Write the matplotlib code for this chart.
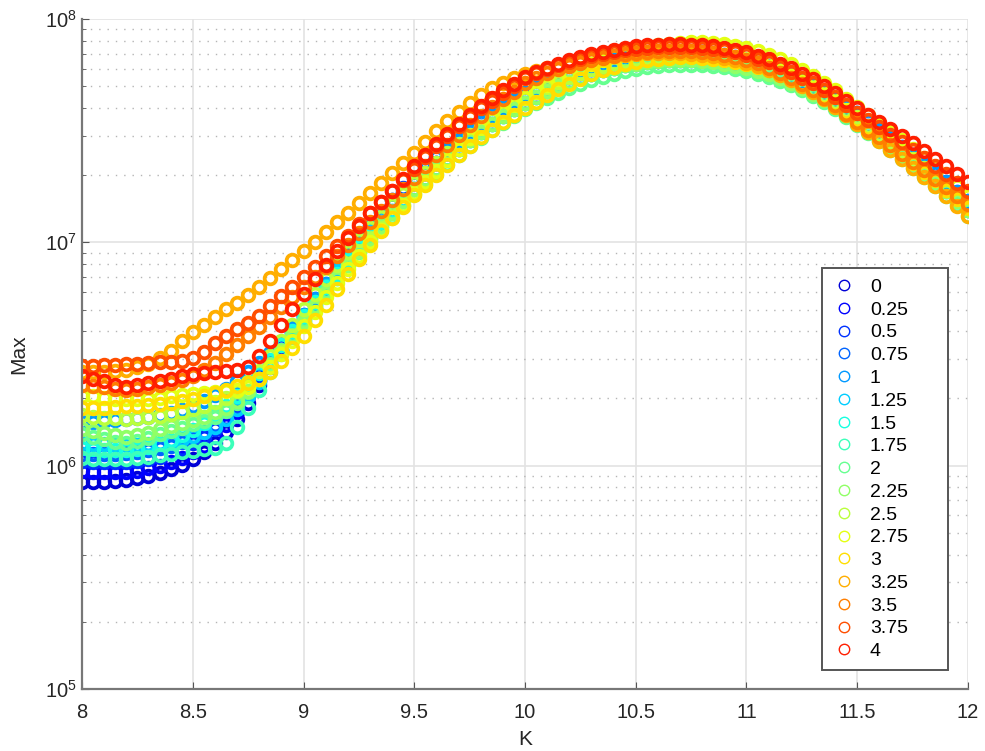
import numpy as np
import matplotlib
matplotlib.use("Agg")
import matplotlib.pyplot as plt
from matplotlib.ticker import FixedLocator, FuncFormatter, LogLocator, NullFormatter

plt.rcParams['font.family'] = ['Liberation Sans', 'DejaVu Sans']

# K grid of the sweep (8 .. 12, step 0.05)
k_values = np.round(np.arange(8.0, 12.0001, 0.05), 2)

# log10(Max), one list per legend entry
# hidden series (buried in the band above K = 9.5) share one of three tails
tail_a = [7.265, 7.31, 7.355, 7.40, 7.44, 7.48, 7.515, 7.55, 7.585, 7.615,
          7.645, 7.672, 7.697, 7.72, 7.74, 7.758, 7.775, 7.79, 7.802, 7.812,
          7.82, 7.827, 7.832, 7.835, 7.836, 7.835, 7.832, 7.827, 7.82, 7.811,
          7.80, 7.787, 7.772, 7.754, 7.734, 7.711, 7.686, 7.658, 7.627, 7.594,
          7.559, 7.523, 7.486, 7.448, 7.41, 7.371, 7.331, 7.29, 7.249, 7.207,
          7.165]
tail_b = [7.29, 7.335, 7.38, 7.42, 7.46, 7.50, 7.537, 7.572, 7.605, 7.637,
          7.667, 7.694, 7.718, 7.74, 7.76, 7.778, 7.794, 7.808, 7.82, 7.83,
          7.838, 7.845, 7.85, 7.853, 7.854, 7.853, 7.85, 7.845, 7.838, 7.829,
          7.818, 7.805, 7.79, 7.772, 7.752, 7.729, 7.704, 7.676, 7.645, 7.612,
          7.578, 7.542, 7.505, 7.467, 7.429, 7.39, 7.35, 7.31, 7.269, 7.227,
          7.185]
tail_c = [7.24, 7.285, 7.33, 7.375, 7.417, 7.457, 7.494, 7.53, 7.564, 7.595,
          7.625, 7.652, 7.677, 7.70, 7.72, 7.738, 7.755, 7.77, 7.782, 7.792,
          7.80, 7.807, 7.812, 7.815, 7.816, 7.815, 7.812, 7.807, 7.80, 7.791,
          7.78, 7.767, 7.752, 7.734, 7.714, 7.691, 7.666, 7.638, 7.607, 7.574,
          7.539, 7.503, 7.466, 7.428, 7.39, 7.351, 7.311, 7.27, 7.229, 7.187,
          7.145]

max_0 = [5.925, 5.925, 5.928, 5.932, 5.937, 5.945, 5.955, 5.968, 5.985, 6.005,
         6.03, 6.06, 6.10, 6.15, 6.21, 6.28, 6.36, 6.44, 6.52, 6.60,
         6.665, 6.735, 6.805, 6.87, 6.935, 6.995, 7.055, 7.11, 7.165, 7.22] + tail_a
max_025 = [5.975, 5.972, 5.97, 5.97, 5.972, 5.978, 5.988, 6.00, 6.015, 6.035,
           6.06, 6.09, 6.13, 6.18, 6.24, 6.31, 6.385, 6.46, 6.535, 6.605,
           6.67, 6.74, 6.81, 6.875, 6.94, 7.0, 7.06, 7.115, 7.17, 7.225] + tail_a
max_05 = [6.02, 6.018, 6.016, 6.016, 6.018, 6.022, 6.03, 6.04, 6.055, 6.075,
          6.10, 6.13, 6.165, 6.21, 6.265, 6.33, 6.40, 6.47, 6.54, 6.61,
          6.675, 6.745, 6.815, 6.885, 6.95, 7.015, 7.075, 7.135, 7.19, 7.245] + tail_b
max_075 = [6.05, 6.05, 6.05, 6.052, 6.055, 6.06, 6.068, 6.078, 6.09, 6.105,
           6.125, 6.15, 6.18, 6.215, 6.26, 6.315, 6.38, 6.45, 6.52, 6.59,
           6.655, 6.725, 6.79, 6.855, 6.915, 6.975, 7.03, 7.085, 7.14, 7.19] + tail_c
max_1 = [6.195, 6.197, 6.20, 6.203, 6.207, 6.212, 6.218, 6.226, 6.236, 6.25,
         6.268, 6.29, 6.315, 6.345, 6.38, 6.42, 6.46, 6.505, 6.555, 6.615,
         6.675, 6.745, 6.815, 6.885, 6.95, 7.015, 7.075, 7.135, 7.19, 7.24] + tail_b
max_125 = [6.10, 6.098, 6.095, 6.093, 6.092, 6.093, 6.096, 6.10, 6.108, 6.118,
           6.132, 6.15, 6.175, 6.21, 6.255, 6.31, 6.375, 6.445, 6.52, 6.595,
           6.665, 6.735, 6.805, 6.87, 6.935, 6.995, 7.055, 7.11, 7.165, 7.22] + tail_a
max_15 = [6.078, 6.075, 6.072, 6.07, 6.07, 6.075, 6.085, 6.098, 6.115, 6.135,
          6.16, 6.19, 6.225, 6.265, 6.31, 6.36, 6.415, 6.475, 6.54, 6.605,
          6.67, 6.735, 6.80, 6.86, 6.92, 6.98, 7.035, 7.09, 7.14, 7.19] + tail_c
max_175 = [6.033, 6.03, 6.028, 6.028, 6.03, 6.034, 6.04, 6.046, 6.053, 6.06,
           6.067, 6.074, 6.08, 6.10, 6.175, 6.26, 6.34, 6.42, 6.50, 6.575,
           6.645, 6.71, 6.775, 6.84, 6.90, 6.96, 7.02, 7.075, 7.13, 7.185] + tail_c
max_2 = [6.14, 6.13, 6.12, 6.105, 6.10, 6.11, 6.125, 6.14, 6.155, 6.17,
         6.185, 6.20, 6.22, 6.245, 6.28, 6.33, 6.39, 6.455, 6.52, 6.585,
         6.65, 6.715, 6.78, 6.84, 6.90, 6.955, 7.01, 7.065, 7.115, 7.165,
         7.215, 7.26, 7.305, 7.35, 7.39, 7.43, 7.468, 7.503, 7.536, 7.567,
         7.595, 7.622, 7.647, 7.67, 7.69, 7.708, 7.725, 7.74, 7.753, 7.765,
         7.775, 7.783, 7.789, 7.793, 7.795, 7.795, 7.793, 7.789, 7.783, 7.775,
         7.765, 7.753, 7.739, 7.722, 7.703, 7.681, 7.656, 7.628, 7.597, 7.563,
         7.527, 7.49, 7.452, 7.413, 7.374, 7.334, 7.293, 7.251, 7.208, 7.165,
         7.12]
max_225 = [6.165, 6.155, 6.145, 6.135, 6.13, 6.135, 6.148, 6.162, 6.177, 6.19,
           6.205, 6.22, 6.238, 6.26, 6.29, 6.335, 6.39, 6.45, 6.515, 6.58,
           6.645, 6.71, 6.775, 6.84, 6.90, 6.96, 7.02, 7.075, 7.13, 7.185] + tail_c
max_25 = [6.225, 6.22, 6.215, 6.212, 6.21, 6.212, 6.216, 6.222, 6.23, 6.24,
          6.252, 6.266, 6.283, 6.305, 6.335, 6.375, 6.425, 6.49, 6.56, 6.63,
          6.70, 6.77, 6.835, 6.90, 6.955, 7.01, 7.065, 7.115, 7.165, 7.215] + tail_a
max_275 = [6.31, 6.31, 6.305, 6.30, 6.30, 6.30, 6.30, 6.305, 6.31, 6.315,
           6.32, 6.325, 6.33, 6.335, 6.34, 6.35, 6.39, 6.44, 6.50, 6.56,
           6.625, 6.69, 6.755, 6.82, 6.88, 6.94, 7.00, 7.055, 7.11, 7.165,
           7.22, 7.27, 7.32, 7.37, 7.42, 7.465, 7.51, 7.55, 7.585, 7.615,
           7.645, 7.675, 7.705, 7.732, 7.757, 7.78, 7.80, 7.818, 7.835, 7.85,
           7.863, 7.874, 7.883, 7.89, 7.894, 7.896, 7.895, 7.892, 7.886, 7.878,
           7.868, 7.855, 7.839, 7.82, 7.798, 7.773, 7.745, 7.714, 7.68, 7.643,
           7.605, 7.568, 7.532, 7.495, 7.457, 7.418, 7.378, 7.337, 7.295, 7.252,
           7.208]
max_3 = [6.26, 6.26, 6.26, 6.262, 6.265, 6.268, 6.27, 6.275, 6.28, 6.29,
         6.30, 6.31, 6.325, 6.34, 6.355, 6.37, 6.39, 6.42, 6.47, 6.525,
         6.58, 6.65, 6.72, 6.79, 6.86, 6.925, 6.99, 7.05, 7.11, 7.16,
         7.21, 7.255, 7.30, 7.345, 7.39, 7.43, 7.47, 7.505, 7.54, 7.57,
         7.60, 7.63, 7.66, 7.685, 7.71, 7.732, 7.752, 7.77, 7.785, 7.798,
         7.808, 7.816, 7.822, 7.826, 7.828, 7.828, 7.826, 7.822, 7.816, 7.808,
         7.798, 7.786, 7.771, 7.753, 7.732, 7.708, 7.681, 7.651, 7.618, 7.583,
         7.546, 7.51, 7.473, 7.435, 7.396, 7.357, 7.317, 7.277, 7.236, 7.195,
         7.155]
max_325 = [6.42, 6.42, 6.42, 6.425, 6.43, 6.44, 6.455, 6.48, 6.515, 6.56,
           6.60, 6.63, 6.665, 6.70, 6.73, 6.765, 6.80, 6.84, 6.88, 6.92,
           6.96, 7.00, 7.045, 7.09, 7.13, 7.175, 7.22, 7.265, 7.31, 7.355,
           7.40, 7.45, 7.50, 7.545, 7.585, 7.625, 7.66, 7.69, 7.715, 7.735,
           7.752, 7.767, 7.78, 7.792, 7.803, 7.813, 7.822, 7.83, 7.836, 7.841,
           7.845, 7.848, 7.849, 7.849, 7.848, 7.845, 7.84, 7.834, 7.826, 7.816,
           7.805, 7.79, 7.772, 7.75, 7.726, 7.70, 7.672, 7.64, 7.606, 7.57,
           7.532, 7.494, 7.455, 7.415, 7.375, 7.334, 7.293, 7.251, 7.208, 7.164,
           7.12]
max_35 = [6.36, 6.355, 6.35, 6.345, 6.34, 6.345, 6.35, 6.36, 6.37, 6.385,
          6.40, 6.43, 6.46, 6.50, 6.54, 6.58, 6.62, 6.665, 6.71, 6.755,
          6.80, 6.845, 6.89, 6.94, 6.99, 7.04, 7.09, 7.14, 7.19, 7.24,
          7.29, 7.34, 7.39, 7.435, 7.48, 7.525, 7.565, 7.605, 7.64, 7.675,
          7.715, 7.737, 7.757, 7.774, 7.789, 7.803, 7.815, 7.826, 7.834, 7.842,
          7.847, 7.852, 7.855, 7.857, 7.857, 7.855, 7.851, 7.846, 7.839, 7.83,
          7.818, 7.801, 7.782, 7.759, 7.736, 7.708, 7.68, 7.647, 7.614, 7.576,
          7.538, 7.504, 7.47, 7.434, 7.397, 7.361, 7.324, 7.285, 7.247, 7.209,
          7.17]
max_375 = [6.445, 6.447, 6.45, 6.452, 6.455, 6.457, 6.46, 6.462, 6.465, 6.47,
           6.48, 6.51, 6.55, 6.58, 6.61, 6.64, 6.67, 6.715, 6.76, 6.80,
           6.845, 6.89, 6.94, 6.985, 7.03, 7.08, 7.13, 7.18, 7.23, 7.28,
           7.33, 7.38, 7.43, 7.475, 7.52, 7.56, 7.60, 7.635, 7.67, 7.70,
           7.735, 7.757, 7.776, 7.793, 7.807, 7.821, 7.833, 7.844, 7.853, 7.86,
           7.866, 7.871, 7.874, 7.876, 7.876, 7.874, 7.871, 7.866, 7.859, 7.85,
           7.838, 7.823, 7.806, 7.785, 7.764, 7.738, 7.712, 7.681, 7.65, 7.615,
           7.58, 7.548, 7.516, 7.482, 7.447, 7.413, 7.378, 7.341, 7.304, 7.267,
           7.23]
max_4 = [6.40, 6.39, 6.38, 6.36, 6.35, 6.36, 6.37, 6.38, 6.39, 6.40,
         6.41, 6.415, 6.42, 6.425, 6.43, 6.44, 6.49, 6.56, 6.63, 6.70,
         6.77, 6.835, 6.90, 6.96, 7.02, 7.075, 7.13, 7.18, 7.23, 7.285,
         7.34, 7.39, 7.44, 7.485, 7.53, 7.57, 7.61, 7.645, 7.68, 7.71,
         7.74, 7.762, 7.782, 7.80, 7.815, 7.83, 7.843, 7.854, 7.863, 7.871,
         7.877, 7.882, 7.885, 7.887, 7.887, 7.885, 7.882, 7.877, 7.87, 7.861,
         7.85, 7.836, 7.82, 7.80, 7.78, 7.755, 7.73, 7.70, 7.67, 7.635,
         7.60, 7.57, 7.54, 7.508, 7.475, 7.443, 7.41, 7.375, 7.34, 7.305,
         7.27]

labels = ['0', '0.25', '0.5', '0.75', '1', '1.25', '1.5', '1.75', '2',
          '2.25', '2.5', '2.75', '3', '3.25', '3.5', '3.75', '4']
series = [max_0, max_025, max_05, max_075, max_1, max_125, max_15, max_175, max_2,
          max_225, max_25, max_275, max_3, max_325, max_35, max_375, max_4]

colors = plt.cm.jet(np.linspace(0.075, 0.875, len(series)))

fig = plt.figure(figsize=(9.85, 7.51), dpi=100)
ax = fig.add_axes([0.0833, 0.0826, 0.8994, 0.8921])

for lab, vals, c in zip(labels, series, colors):
    ax.plot(k_values, 10 ** np.array(vals), 'o', mfc='none', mec=c,
            ms=8.4, mew=2.7, label=lab)

ax.set_yscale('log')
ax.set_xlim(8, 12)
ax.set_ylim(1e5, 1e8)

ax.xaxis.set_major_locator(FixedLocator(np.arange(8, 12.01, 0.5)))
ax.xaxis.set_major_formatter(FuncFormatter(lambda v, p: '%g' % v))
ax.yaxis.set_major_locator(LogLocator(base=10, numticks=10))
ax.yaxis.set_minor_locator(LogLocator(base=10, subs=np.arange(2, 10), numticks=20))
ax.yaxis.set_minor_formatter(NullFormatter())

ax.set_axisbelow(True)
ax.grid(which='major', color='#e3e3e3', linewidth=1.2, linestyle='-')
ax.grid(which='minor', axis='y', color='#b5b5b5', linewidth=1.0, linestyle=(0, (1, 5)))

for side in ('top', 'right'):
    ax.spines[side].set_visible(False)
for side in ('left', 'bottom'):
    ax.spines[side].set_color('#777777')
    ax.spines[side].set_linewidth(1.6)

ax.tick_params(which='both', direction='in', color='#555555', labelcolor='#262626',
               labelsize=14.5)
ax.tick_params(which='major', length=5)
ax.tick_params(which='minor', length=3)
ax.tick_params(axis='x', pad=10)

ax.set_xlabel('K', fontsize=15, color='#262626', labelpad=6)
ax.set_ylabel('Max', fontsize=15, color='#262626', labelpad=12)

leg = ax.legend(loc='upper left', bbox_to_anchor=(0.835, 0.0305, 0.1422, 0.5975),
                mode='expand', fontsize=14,
                frameon=True, fancybox=False, framealpha=1, edgecolor='#555555',
                handlelength=1.25, handletextpad=0.7, labelspacing=0.265,
                borderpad=0.52, borderaxespad=0)
leg.get_frame().set_linewidth(1.4)
for h in leg.legend_handles:
    h.set_markeredgewidth(1.0)
    h.set_markersize(7.5)

fig.savefig('out.png', dpi=100)
